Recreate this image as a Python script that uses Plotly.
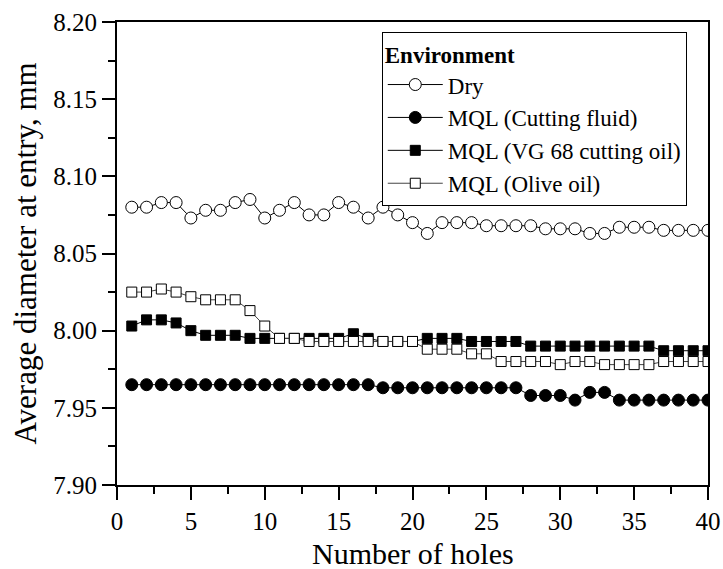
import plotly.graph_objects as go

holes = list(range(1, 41))

dry = [8.080, 8.080, 8.083, 8.083, 8.073, 8.078, 8.078, 8.083, 8.085, 8.073,
       8.078, 8.083, 8.075, 8.075, 8.083, 8.080, 8.073, 8.080, 8.075, 8.070,
       8.063, 8.070, 8.070, 8.070, 8.068, 8.068, 8.068, 8.068, 8.066, 8.066,
       8.066, 8.063, 8.063, 8.067, 8.067, 8.067, 8.065, 8.065, 8.065, 8.065]

cutting_fluid = [7.965] * 17 + [7.963] * 10 + [7.958, 7.958, 7.958, 7.955, 7.960, 7.960,
                                                  7.955, 7.955, 7.955, 7.955, 7.955, 7.955, 7.955]

vg68 = [8.003, 8.007, 8.007, 8.005, 8.000, 7.997, 7.997, 7.997, 7.995, 7.995,
        7.995, 7.995, 7.995, 7.995, 7.995, 7.998, 7.995, 7.993, 7.993, 7.993,
        7.995, 7.995, 7.995, 7.993, 7.993, 7.993, 7.993, 7.990, 7.990, 7.990,
        7.990, 7.990, 7.990, 7.990, 7.990, 7.990, 7.987, 7.987, 7.987, 7.987]

olive = [8.025, 8.025, 8.027, 8.025, 8.022, 8.020, 8.020, 8.020, 8.013, 8.003,
         7.995, 7.995, 7.993, 7.993, 7.993, 7.993, 7.993, 7.993, 7.993, 7.993,
         7.988, 7.988, 7.988, 7.985, 7.985, 7.980, 7.980, 7.980, 7.980, 7.978,
         7.980, 7.980, 7.978, 7.978, 7.978, 7.978, 7.980, 7.980, 7.980, 7.980]

names = ["Dry", "MQL (Cutting fluid)", "MQL (VG 68 cutting oil)", "MQL (Olive oil)"]
x_title = "Number of holes"
y_title = "Average diameter at entry, mm"

FONT = "Liberation Serif"

fig = go.Figure()
fig.add_trace(go.Scatter(x=holes, y=dry, name=names[0], mode="lines+markers",
                         line=dict(color="black", width=1),
                         marker=dict(symbol="circle", size=12, color="white",
                                     line=dict(color="black", width=1))))
fig.add_trace(go.Scatter(x=holes, y=cutting_fluid, name=names[1], mode="lines+markers",
                         line=dict(color="black", width=1),
                         marker=dict(symbol="circle", size=12, color="black",
                                     line=dict(color="black", width=1))))
fig.add_trace(go.Scatter(x=holes, y=vg68, name=names[2], mode="lines+markers",
                         line=dict(color="black", width=1),
                         marker=dict(symbol="square", size=10, color="black",
                                     line=dict(color="black", width=1))))
fig.add_trace(go.Scatter(x=holes, y=olive, name=names[3], mode="lines+markers",
                         line=dict(color="#444444", width=1),
                         marker=dict(symbol="square", size=10, color="white",
                                     line=dict(color="black", width=1))))

axis_common = dict(showline=True, linecolor="black", linewidth=2, mirror=True,
                   ticks="outside", ticklen=13, tickwidth=2, tickcolor="black",
                   showgrid=False, zeroline=False, automargin=False,
                   tickfont=dict(family=FONT, size=25, color="black"))

fig.update_xaxes(range=[0, 40], tickvals=[0, 5, 10, 15, 20, 25, 30, 35, 40],
                 minor=dict(ticks="outside", ticklen=7, tickwidth=2, tickcolor="black",
                            dtick=2.5, tick0=0),
                 **axis_common)
fig.update_yaxes(range=[7.90, 8.20], tickvals=[7.90, 7.95, 8.00, 8.05, 8.10, 8.15, 8.20],
                 tickformat=".2f",
                 minor=dict(ticks="outside", ticklen=7, tickwidth=2, tickcolor="black",
                            dtick=0.025, tick0=7.90),
                 **axis_common)

fig.add_annotation(text=x_title, xref="paper", yref="paper", x=0.5, y=-0.148,
                   xanchor="center", yanchor="middle", showarrow=False,
                   font=dict(family=FONT, size=30, color="black"))
fig.add_annotation(text=y_title, xref="paper", yref="paper", x=-0.154, y=0.5,
                   xanchor="center", yanchor="middle", textangle=-90, showarrow=False,
                   font=dict(family=FONT, size=31, color="black"))

fig.update_layout(
    width=723, height=569,
    margin=dict(l=117, r=15, t=22, b=84),
    paper_bgcolor="white", plot_bgcolor="white",
    font=dict(family=FONT, color="black"),
    legend=dict(x=0.448, y=0.978, xanchor="left", yanchor="top",
                bgcolor="white", bordercolor="black", borderwidth=1,
                font=dict(family=FONT, size=23, color="black"),
                title=dict(text="<b>Environment</b>", font=dict(family=FONT, size=23, color="black")),
                tracegroupgap=0, itemwidth=55),
    showlegend=True,
)

fig.write_html("out.html", config={"displayModeBar": False},
               post_script="document.body.style.margin='0';document.body.style.overflow='hidden';")
